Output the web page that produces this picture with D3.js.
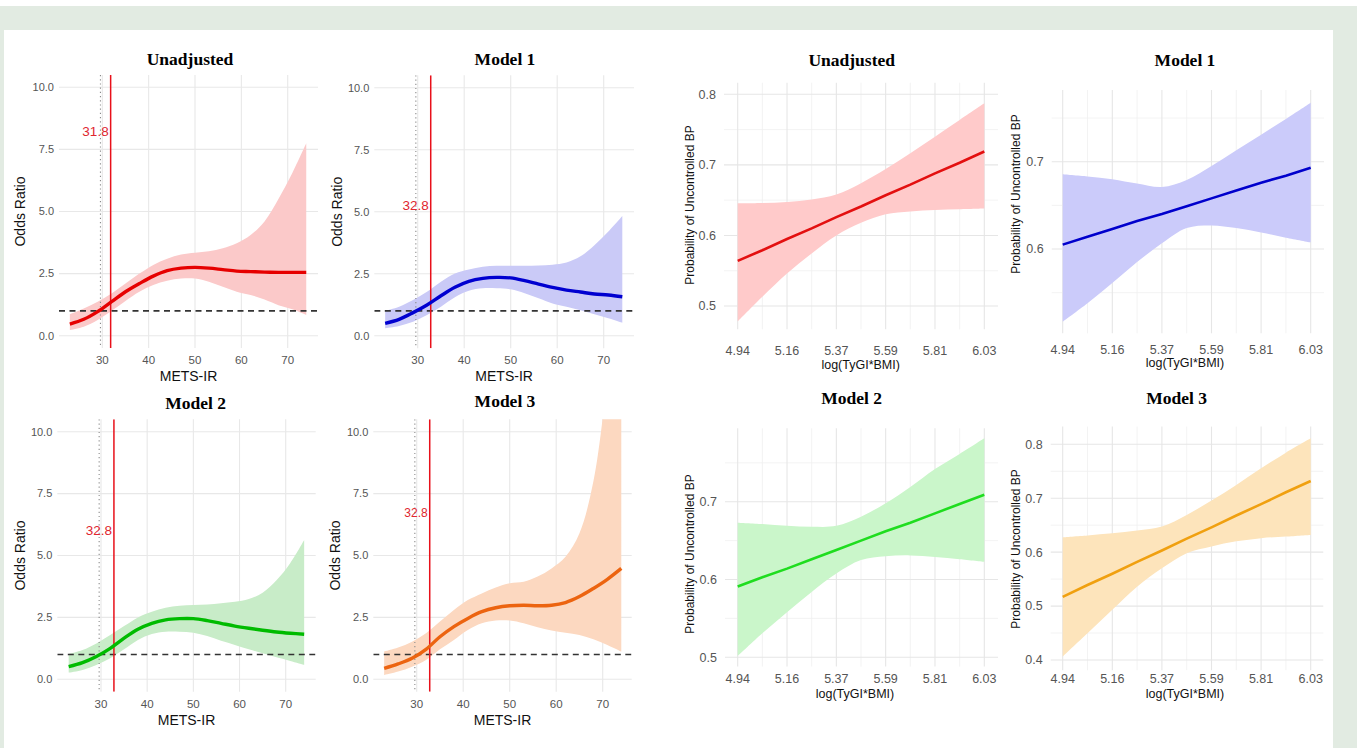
<!DOCTYPE html>
<html><head><meta charset="utf-8">
<script src="https://cdn.jsdelivr.net/npm/d3@7"></script>
<style>html,body{margin:0;padding:0;background:#fff;}svg{display:block;}</style>
</head><body>
<script>
// ---------------- DATA ----------------
const metsX = [23,26,29,32,35,38,41,44,47,50,53,56,59,62,65,68,71,74];
const metsTicks = [30,40,50,60,70];
const orTicks = [0,2.5,5,7.5,10];
const orTickLabels = ["0.0","2.5","5.0","7.5","10.0"];

const unadjOR    = [0.47,0.66,0.97,1.37,1.77,2.10,2.40,2.62,2.72,2.75,2.72,2.66,2.60,2.58,2.56,2.55,2.55,2.55];
const unadjORLo  = [0.23,0.36,0.63,1.00,1.40,1.77,2.04,2.21,2.30,2.30,2.17,1.97,1.77,1.64,1.46,1.23,1.06,0.83];
const unadjORHi  = [0.87,1.10,1.37,1.70,2.10,2.50,2.85,3.10,3.27,3.34,3.40,3.52,3.72,4.05,4.60,5.50,6.55,7.75];

const m1OR   = [0.50,0.66,0.93,1.24,1.61,1.95,2.19,2.31,2.35,2.33,2.22,2.08,1.95,1.84,1.76,1.68,1.64,1.57];
const m1ORLo = [0.30,0.39,0.56,0.83,1.17,1.55,1.81,1.91,1.91,1.87,1.71,1.51,1.30,1.17,1.03,0.86,0.70,0.52];
const m1ORHi = [1.00,1.17,1.44,1.77,2.18,2.51,2.67,2.78,2.82,2.82,2.82,2.83,2.86,2.95,3.20,3.65,4.20,4.83];

const m2OR   = [0.51,0.67,0.92,1.25,1.66,2.02,2.26,2.40,2.45,2.45,2.37,2.26,2.15,2.06,1.98,1.91,1.86,1.82];
const m2ORLo = [0.27,0.38,0.58,0.85,1.21,1.59,1.83,1.92,1.92,1.88,1.75,1.56,1.39,1.21,1.05,0.89,0.74,0.58];
const m2ORHi = [1.02,1.18,1.45,1.79,2.15,2.50,2.73,2.89,2.97,3.00,3.02,3.07,3.13,3.24,3.50,4.00,4.70,5.63];

const m3OR   = [0.44,0.62,0.85,1.21,1.72,2.13,2.46,2.73,2.89,2.97,2.99,2.97,2.99,3.10,3.34,3.67,4.04,4.48];
const m3ORLo = [0.17,0.31,0.51,0.78,1.21,1.59,1.99,2.26,2.37,2.37,2.26,2.10,1.97,1.88,1.79,1.62,1.39,1.12];
const m3ORHi = [1.12,1.28,1.52,1.86,2.33,2.80,3.20,3.47,3.71,3.88,3.94,4.15,4.48,4.95,5.90,8.00,12.0,16.0];

const cutoffs = [31.8, 32.8, 32.8, 32.8];
const cutoffLabels = ["31.8","32.8","32.8","32.8"];
const cutoffLabelY = [8.21, 5.24, 6.03, 6.73];
const refLine = 1;
const dottedX = 29.6;

const tygX = [4.94,5.049,5.158,5.267,5.376,5.485,5.594,5.703,5.812,5.921,6.03];
const tygTicks = [4.94,5.158,5.376,5.594,5.812,6.03];
const tygTickLabels = ["4.94","5.16","5.37","5.59","5.81","6.03"];

const unadjP   = [0.564,0.579,0.595,0.610,0.626,0.641,0.657,0.672,0.688,0.703,0.719];
const unadjPLo = [0.478,0.513,0.546,0.5745,0.600,0.618,0.630,0.634,0.636,0.637,0.638];
const unadjPHi = [0.6456,0.646,0.6475,0.651,0.658,0.674,0.694,0.7165,0.740,0.7636,0.7872];

const m1P   = [0.605,0.614,0.623,0.632,0.640,0.649,0.658,0.667,0.676,0.684,0.693];
const m1PLo = [0.5168,0.538,0.561,0.585,0.6065,0.624,0.627,0.624,0.619,0.613,0.6076];
const m1PHi = [0.6855,0.683,0.680,0.675,0.671,0.679,0.695,0.713,0.731,0.749,0.7676];

const m2P   = [0.591,0.603,0.614,0.626,0.638,0.650,0.662,0.673,0.685,0.697,0.709];
const m2PLo = [0.5017,0.531,0.558,0.584,0.6077,0.625,0.630,0.631,0.629,0.626,0.6227];
const m2PHi = [0.673,0.6712,0.669,0.6678,0.669,0.6807,0.698,0.719,0.742,0.7614,0.7815];

const m3P   = [0.517,0.539,0.560,0.582,0.603,0.625,0.646,0.668,0.689,0.711,0.732];
const m3PLo = [0.4062,0.4495,0.493,0.536,0.570,0.598,0.6107,0.620,0.626,0.629,0.632];
const m3PHi = [0.6276,0.631,0.6349,0.640,0.6474,0.669,0.6957,0.7247,0.7555,0.7845,0.811];

const titles = ["Unadjusted","Model 1","Model 2","Model 3"];

// ---------------- DRAW ----------------
const W = 1357, H = 748;
const svg = d3.select("body").append("svg").attr("width", W).attr("height", H);
svg.append("rect").attr("width", W).attr("height", H).attr("fill", "#fff");
svg.append("rect").attr("x",0).attr("y",6).attr("width", W).attr("height", H-6).attr("fill", "#e2ebe2");
svg.append("rect").attr("x",4).attr("y",30).attr("width", 1329).attr("height", H-30).attr("fill", "#fff");

const SANS = "'Liberation Sans', Arial, sans-serif";
const SERIF = "'Liberation Serif', 'Times New Roman', serif";
let clipId = 0;

function panelBase(cfg) {
  const x = d3.scaleLinear().domain(cfg.xRef).range(cfg.xPx);
  const y = d3.scaleLinear().domain(cfg.yRef).range(cfg.yPx);
  const g = svg.append("g");
  const id = "clip" + (clipId++);
  g.append("clipPath").attr("id", id).append("rect")
    .attr("x", cfg.box[0]).attr("y", cfg.box[2])
    .attr("width", cfg.box[1]-cfg.box[0]).attr("height", cfg.box[3]-cfg.box[2]);
  return {x, y, g, id};
}

function metsPanel(cfg) {
  const {x, y, g, id} = panelBase(cfg);
  const [bx0, bx1, by0, by1] = cfg.box;
  g.selectAll(".gy").data(orTicks).join("line")
    .attr("x1", bx0).attr("x2", bx1).attr("y1", d=>y(d)).attr("y2", d=>y(d))
    .attr("stroke", "#e8e8e8").attr("stroke-width", 1.1);
  g.selectAll(".gx").data(metsTicks).join("line")
    .attr("x1", d=>x(d)).attr("x2", d=>x(d)).attr("y1", by0).attr("y2", by1)
    .attr("stroke", "#e8e8e8").attr("stroke-width", 1.1);
  const cg = g.append("g").attr("clip-path", `url(#${id})`);
  const pts = metsX.map((v,i)=>({x:v, f:cfg.fit[i], lo:cfg.lo[i], hi:cfg.hi[i]}));
  cg.append("path").datum(pts)
    .attr("d", d3.area().curve(d3.curveCatmullRom).x(d=>x(d.x)).y0(d=>y(d.lo)).y1(d=>y(d.hi)))
    .attr("fill", cfg.fill);
  cg.append("line").attr("x1", x(dottedX)).attr("x2", x(dottedX)).attr("y1", by0).attr("y2", by1)
    .attr("stroke", "#8a8a8a").attr("stroke-width", 1.1).attr("stroke-dasharray", "1.2,3");
  cg.append("line").attr("x1", bx0).attr("x2", bx1).attr("y1", y(refLine)).attr("y2", y(refLine))
    .attr("stroke", "#333").attr("stroke-width", 1.6).attr("stroke-dasharray", "6,4.5");
  cg.append("line").attr("x1", x(cfg.cut)).attr("x2", x(cfg.cut)).attr("y1", by0).attr("y2", by1)
    .attr("stroke", "#e8101a").attr("stroke-width", 1.5);
  cg.append("path").datum(pts)
    .attr("d", d3.line().curve(d3.curveCatmullRom).x(d=>x(d.x)).y(d=>y(d.f)))
    .attr("fill", "none").attr("stroke", cfg.color).attr("stroke-width", 3.4);
  g.append("text").attr("x", x(cfg.cut)-2).attr("y", y(cfg.labY)).attr("dy", "0.35em")
    .attr("text-anchor", "end").attr("font-family", SANS).attr("font-size", cfg.labSize)
    .attr("fill", "#e0262f").text(cfg.lab);
  g.selectAll(".yt").data(orTicks).join("text")
    .attr("x", bx0-5).attr("y", d=>y(d)).attr("dy","0.35em").attr("text-anchor","end")
    .attr("font-family", SANS).attr("font-size", 11).attr("fill", "#555")
    .text((d,i)=>orTickLabels[i]);
  g.selectAll(".xt").data(metsTicks).join("text")
    .attr("x", d=>x(d)).attr("y", by1+12).attr("dy","0.35em").attr("text-anchor","middle")
    .attr("font-family", SANS).attr("font-size", 11.5).attr("fill", "#555").text(d=>d);
  g.append("text").attr("x", (bx0+bx1)/2).attr("y", by1+28).attr("dy","0.35em")
    .attr("text-anchor","middle").attr("font-family", SANS).attr("font-size", 14).attr("fill","#111")
    .text("METS-IR");
  g.append("text").attr("transform", `translate(${cfg.yTitleX},${(by0+by1)/2}) rotate(-90)`)
    .attr("dy","0.35em").attr("text-anchor","middle").attr("font-family", SANS)
    .attr("font-size", 14).attr("fill","#111").text("Odds Ratio");
  g.append("text").attr("x", cfg.titleX).attr("y", cfg.titleY).attr("dy","0.35em")
    .attr("text-anchor","middle").attr("font-family", SERIF).attr("font-weight","bold")
    .attr("font-size", 17.5).attr("fill","#000").text(cfg.title);
}

function tygPanel(cfg) {
  const {x, y, g, id} = panelBase(cfg);
  const [bx0, bx1, by0, by1] = cfg.box;
  const yLo = y.invert(by1), yHi = y.invert(by0);
  const majors = d3.range(Math.ceil(yLo*10-1e-6), Math.floor(yHi*10+1e-6)+1).map(d=>d/10);
  const minors = d3.range(Math.ceil(yLo*20-1e-6), Math.floor(yHi*20+1e-6)+1).map(d=>d/20)
    .filter(d=>Math.abs(d*10-Math.round(d*10))>1e-6);
  const xMinors = tygTicks.slice(1).map((d,i)=>(d+tygTicks[i])/2);
  g.selectAll(".ym").data(minors).join("line")
    .attr("x1", bx0).attr("x2", bx1).attr("y1", d=>y(d)).attr("y2", d=>y(d))
    .attr("stroke", "#f0f0f0").attr("stroke-width", 0.8);
  g.selectAll(".xm").data(xMinors).join("line")
    .attr("x1", d=>x(d)).attr("x2", d=>x(d)).attr("y1", by0).attr("y2", by1)
    .attr("stroke", "#f0f0f0").attr("stroke-width", 0.8);
  g.selectAll(".yM").data(majors).join("line")
    .attr("x1", bx0).attr("x2", bx1).attr("y1", d=>y(d)).attr("y2", d=>y(d))
    .attr("stroke", "#e6e6e6").attr("stroke-width", 1.1);
  g.selectAll(".xM").data(tygTicks).join("line")
    .attr("x1", d=>x(d)).attr("x2", d=>x(d)).attr("y1", by0).attr("y2", by1)
    .attr("stroke", "#e6e6e6").attr("stroke-width", 1.1);
  const cg = g.append("g").attr("clip-path", `url(#${id})`);
  const pts = tygX.map((v,i)=>({x:v, f:cfg.fit[i], lo:cfg.lo[i], hi:cfg.hi[i]}));
  cg.append("path").datum(pts)
    .attr("d", d3.area().curve(d3.curveCatmullRom).x(d=>x(d.x)).y0(d=>y(d.lo)).y1(d=>y(d.hi)))
    .attr("fill", cfg.fill);
  cg.append("path").datum(pts)
    .attr("d", d3.line().x(d=>x(d.x)).y(d=>y(d.f)))
    .attr("fill", "none").attr("stroke", cfg.color).attr("stroke-width", 2.6);
  g.selectAll(".yt").data(majors).join("text")
    .attr("x", bx0-8).attr("y", d=>y(d)).attr("dy","0.35em").attr("text-anchor","end")
    .attr("font-family", SANS).attr("font-size", 12.5).attr("fill", "#555").text(d=>d3.format(".1f")(d));
  g.selectAll(".xt").data(tygTicks).join("text")
    .attr("x", d=>x(d)).attr("y", cfg.xTickY).attr("dy","0.35em").attr("text-anchor","middle")
    .attr("font-family", SANS).attr("font-size", 12.5).attr("fill", "#555").text((d,i)=>tygTickLabels[i]);
  g.append("text").attr("x", cfg.xTitleX).attr("y", cfg.xTitleY).attr("dy","0.35em")
    .attr("text-anchor","middle").attr("font-family", SANS).attr("font-size", 12.5).attr("fill","#111")
    .text("log(TyGI*BMI)");
  g.append("text").attr("transform", `translate(${cfg.yTitleX},${cfg.yTitleY}) rotate(-90)`)
    .attr("dy","0.35em").attr("text-anchor","middle").attr("font-family", SANS)
    .attr("font-size", 12).attr("fill","#111").text("Probability of Uncontrolled BP");
  g.append("text").attr("x", cfg.titleX).attr("y", cfg.titleY).attr("dy","0.35em")
    .attr("text-anchor","middle").attr("font-family", SERIF).attr("font-weight","bold")
    .attr("font-size", 17.5).attr("fill","#000").text(cfg.title);
}

metsPanel({xRef:[30,70], xPx:[102.3,287.7], yRef:[0,10], yPx:[335.7,87.3], box:[59,318,75,348],
  fit:unadjOR, lo:unadjORLo, hi:unadjORHi, fill:"#fbc9c9", color:"#e60000",
  cut:cutoffs[0], lab:cutoffLabels[0], labY:cutoffLabelY[0], labSize:13.5,
  yTitleX:20, titleX:190, titleY:59, title:titles[0]});
metsPanel({xRef:[30,70], xPx:[417.7,603.7], yRef:[0,10], yPx:[335.7,87.7], box:[374.3,634,75.3,348.3],
  fit:m1OR, lo:m1ORLo, hi:m1ORHi, fill:"#cacaf7", color:"#0000d0",
  cut:cutoffs[1], lab:cutoffLabels[1], labY:cutoffLabelY[1], labSize:13.5,
  yTitleX:337, titleX:505, titleY:59, title:titles[1]});
metsPanel({xRef:[30,70], xPx:[101,285.7], yRef:[0,10], yPx:[679.3,431.7], box:[57.3,315.7,419.3,691.7],
  fit:m2OR, lo:m2ORLo, hi:m2ORHi, fill:"#c8ecc8", color:"#00bb00",
  cut:cutoffs[2], lab:cutoffLabels[2], labY:cutoffLabelY[2], labSize:13.5,
  yTitleX:20, titleX:195.7, titleY:402.7, title:titles[2]});
metsPanel({xRef:[30,70], xPx:[416.7,602.7], yRef:[0,10], yPx:[679.3,431.7], box:[373.3,631.7,419.3,691.7],
  fit:m3OR, lo:m3ORLo, hi:m3ORHi, fill:"#fcd8c0", color:"#ec6410",
  cut:cutoffs[3], lab:cutoffLabels[3], labY:cutoffLabelY[3], labSize:12,
  yTitleX:335, titleX:505, titleY:401, title:titles[3]});

tygPanel({xRef:[4.94,6.03], xPx:[737.7,984.3], yRef:[0.5,0.8], yPx:[306,94.3], box:[724,998,82.7,329.3],
  fit:unadjP, lo:unadjPLo, hi:unadjPHi, fill:"#ffcaca", color:"#e31010",
  xTickY:351, xTitleX:860.7, xTitleY:365, yTitleX:690, yTitleY:205, titleX:851.7, titleY:60, title:titles[0]});
tygPanel({xRef:[4.94,6.03], xPx:[1062.7,1310.7], yRef:[0.6,0.7], yPx:[249,161.7], box:[1051.7,1324,90,333.3],
  fit:m1P, lo:m1PLo, hi:m1PHi, fill:"#cbcbfa", color:"#0000cc",
  xTickY:349.5, xTitleX:1185, xTitleY:363, yTitleX:1016, yTitleY:194, titleX:1185, titleY:60, title:titles[1]});
tygPanel({xRef:[4.94,6.03], xPx:[737.7,984.3], yRef:[0.5,0.7], yPx:[657.3,501.7], box:[725,998,428.3,666.6],
  fit:m2P, lo:m2PLo, hi:m2PHi, fill:"#caf6ca", color:"#1fdd1f",
  xTickY:679, xTitleX:855, xTitleY:693.3, yTitleX:690, yTitleY:554, titleX:851.7, titleY:398.3, title:titles[2]});
tygPanel({xRef:[4.94,6.03], xPx:[1062.7,1310.7], yRef:[0.4,0.8], yPx:[660,444.3], box:[1050.7,1323.3,426.6,670.2],
  fit:m3P, lo:m3PLo, hi:m3PHi, fill:"#fde4bb", color:"#f0a010",
  xTickY:679, xTitleX:1185, xTitleY:693.3, yTitleX:1016, yTitleY:549, titleX:1176.7, titleY:398, title:titles[3]});
</script>
</body></html>
